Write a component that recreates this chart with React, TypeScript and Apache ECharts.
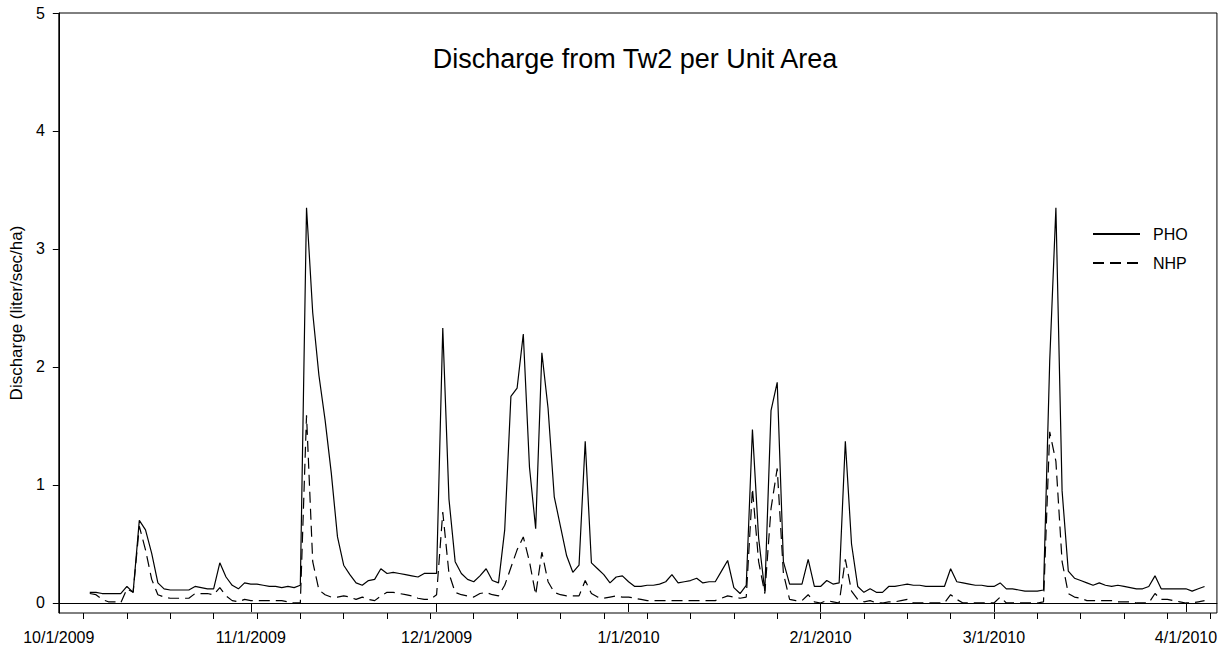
import React, { useEffect, useRef } from 'react';
import * as echarts from 'echarts';

// First sample date (daily samples)
const firstSample = [2009, 9, 6]; // 6 Oct 2009

const phoValues = [
  0.09, 0.09, 0.08, 0.08, 0.08, 0.08, 0.14, 0.09, 0.70, 0.62,
  0.42, 0.17, 0.12, 0.11, 0.11, 0.11, 0.11, 0.14, 0.13, 0.12,
  0.12, 0.34, 0.22, 0.15, 0.12, 0.17, 0.16, 0.16, 0.15, 0.14,
  0.14, 0.13, 0.14, 0.13, 0.15, 3.35, 2.46, 1.93, 1.55, 1.10,
  0.56, 0.32, 0.24, 0.17, 0.15, 0.19, 0.20, 0.29, 0.25, 0.26,
  0.25, 0.24, 0.23, 0.22, 0.25, 0.25, 0.25, 2.33, 0.88, 0.35,
  0.25, 0.20, 0.18, 0.23, 0.29, 0.19, 0.17, 0.62, 1.75, 1.82,
  2.28, 1.15, 0.63, 2.12, 1.65, 0.90, 0.65, 0.40, 0.26, 0.32,
  1.37, 0.34, 0.29, 0.24, 0.17, 0.22, 0.23, 0.18, 0.14, 0.14,
  0.15, 0.15, 0.16, 0.18, 0.24, 0.17, 0.18, 0.19, 0.21, 0.17,
  0.18, 0.18, 0.27, 0.36, 0.13, 0.08, 0.15, 1.47, 0.55, 0.10,
  1.63, 1.87, 0.35, 0.16, 0.16, 0.16, 0.37, 0.14, 0.14, 0.19,
  0.16, 0.17, 1.37, 0.50, 0.14, 0.09, 0.12, 0.09, 0.09, 0.14,
  0.14, 0.15, 0.16, 0.15, 0.15, 0.14, 0.14, 0.14, 0.14, 0.29,
  0.18, 0.17, 0.16, 0.15, 0.15, 0.14, 0.14, 0.17, 0.12, 0.12,
  0.11, 0.10, 0.10, 0.10, 0.11, 2.05, 3.35, 0.95, 0.27, 0.21,
  0.19, 0.17, 0.15, 0.17, 0.15, 0.14, 0.15, 0.14, 0.13, 0.12,
  0.12, 0.14, 0.23, 0.12, 0.12, 0.12, 0.12, 0.12, 0.10, 0.12,
  0.14,
];

const nhpValues = [
  0.08, 0.07, 0.03, 0.01, 0.01, 0.00, 0.12, 0.09, 0.65, 0.45,
  0.20, 0.07, 0.05, 0.04, 0.04, 0.04, 0.04, 0.08, 0.08, 0.08,
  0.07, 0.13, 0.06, 0.02, 0.01, 0.03, 0.02, 0.02, 0.02, 0.02,
  0.02, 0.02, 0.01, 0.00, 0.00, 1.59, 0.35, 0.11, 0.07, 0.05,
  0.05, 0.06, 0.05, 0.03, 0.05, 0.03, 0.02, 0.06, 0.09, 0.09,
  0.08, 0.07, 0.06, 0.04, 0.03, 0.03, 0.07, 0.77, 0.25, 0.09,
  0.07, 0.06, 0.05, 0.08, 0.09, 0.07, 0.06, 0.15, 0.30, 0.45,
  0.56, 0.35, 0.07, 0.43, 0.18, 0.09, 0.07, 0.06, 0.06, 0.06,
  0.19, 0.08, 0.05, 0.04, 0.05, 0.06, 0.05, 0.05, 0.04, 0.03,
  0.02, 0.02, 0.02, 0.02, 0.02, 0.02, 0.02, 0.02, 0.02, 0.02,
  0.02, 0.02, 0.04, 0.06, 0.05, 0.04, 0.05, 0.97, 0.35, 0.08,
  0.80, 1.14, 0.25, 0.03, 0.02, 0.02, 0.07, 0.01, 0.00, 0.02,
  0.01, 0.00, 0.37, 0.10, 0.03, 0.01, 0.02, 0.00, 0.00, 0.01,
  0.01, 0.02, 0.03, 0.00, 0.00, 0.00, 0.00, 0.00, 0.00, 0.07,
  0.03, 0.00, 0.00, 0.00, 0.00, 0.00, 0.00, 0.05, 0.00, 0.00,
  0.00, 0.00, 0.00, 0.00, 0.01, 1.45, 1.20, 0.35, 0.08, 0.05,
  0.04, 0.02, 0.02, 0.02, 0.02, 0.02, 0.01, 0.01, 0.01, 0.00,
  0.00, 0.00, 0.08, 0.03, 0.03, 0.02, 0.01, 0.00, 0.00, 0.01,
  0.02,
];

const monthTicks = [
  [2009, 9, 1], [2009, 10, 1], [2009, 11, 1], [2010, 0, 1],
  [2010, 1, 1], [2010, 2, 1], [2010, 3, 1],
];
const yTicks = [0, 1, 2, 3, 4, 5];
const axisStart = [2009, 9, 1];
const axisEnd = [2010, 3, 6];
const firstMonday = [2009, 9, 5];
const lastMonday = [2010, 3, 5];

const DAY = 86400000;
const ts = (a: number[], add = 0) => Date.UTC(a[0], a[1], a[2] + add);
// day number relative to axis start
const dn = (a: number[], add = 0) => Math.round((ts(a, add) - ts(axisStart)) / DAY);

const FONT = '"Liberation Sans", Arial, Helvetica, sans-serif';

export default function App() {
  const ref = useRef<HTMLDivElement>(null);
  useEffect(() => {
    if (!ref.current) return;
    const chart = echarts.init(ref.current, undefined, { renderer: 'svg' });
    const pho = phoValues.map((v, i) => [dn(firstSample, i), v]);
    const nhp = nhpValues.map((v, i) => [dn(firstSample, i), v]);
    const weekly: number[] = [];
    for (let k = 0; dn(firstMonday, 7 * k) <= dn(lastMonday); k++) {
      weekly.push(dn(firstMonday, 7 * k));
    }
    const monthDays = monthTicks.map((m) => dn(m));
    const fmt = (v: number) => {
      const d = new Date(ts(axisStart) + Math.round(v) * DAY);
      return `${d.getUTCMonth() + 1}/${d.getUTCDate()}/${d.getUTCFullYear()}`;
    };
    chart.setOption({
      animation: false,
      textStyle: { fontFamily: FONT, color: '#000' },
      title: {
        text: 'Discharge from Tw2 per Unit Area',
        left: 635,
        top: 45,
        textAlign: 'center',
        padding: 0,
        textStyle: { fontFamily: FONT, fontSize: 27, fontWeight: 'normal', color: '#000' },
      },
      legend: {
        orient: 'vertical',
        left: 1092,
        top: 226,
        itemWidth: 47,
        itemHeight: 14,
        itemGap: 13,
        padding: 0,
        itemStyle: { opacity: 0 },
        textStyle: { fontFamily: FONT, fontSize: 16, color: '#000', padding: [0, 0, 0, 8] },
        data: ['PHO', 'NHP'],
      },
      grid: {
        left: 55,
        right: 3,
        top: 13,
        bottom: 40,
        show: true,
        borderColor: '#000',
        borderWidth: 1,
        backgroundColor: 'transparent',
      },
      xAxis: [
        {
          type: 'value',
          min: dn(axisStart),
          max: dn(axisEnd),
          axisLine: { show: true, lineStyle: { color: '#000', width: 1 } },
          axisTick: {
            show: true,
            length: 9,
            lineStyle: { color: '#000' },
            customValues: monthDays,
          },
          axisLabel: {
            show: true,
            fontFamily: FONT,
            fontSize: 16,
            color: '#000',
            margin: 16,
            customValues: monthDays,
            formatter: fmt,
            hideOverlap: false,
          },
          splitLine: { show: false },
        },
        {
          type: 'value',
          min: dn(axisStart),
          max: dn(axisEnd),
          position: 'bottom',
          axisLine: { show: false },
          axisTick: {
            show: true,
            length: 6,
            lineStyle: { color: '#000' },
            customValues: weekly,
          },
          axisLabel: { show: false },
          splitLine: { show: false },
        },
      ],
      yAxis: {
        type: 'value',
        min: -0.085,
        max: 5,
        name: 'Discharge (liter/sec/ha)',
        nameLocation: 'middle',
        nameGap: 30,
        nameTextStyle: { fontFamily: FONT, fontSize: 17, color: '#000' },
        axisLine: { show: true, lineStyle: { color: '#000', width: 1 } },
        axisTick: { show: true, length: 6, lineStyle: { color: '#000' }, customValues: yTicks },
        axisLabel: {
          fontFamily: FONT,
          fontSize: 16,
          color: '#000',
          margin: 14,
          customValues: yTicks,
        },
        splitLine: { show: false },
      },
      series: [
        {
          name: 'PHO',
          type: 'line',
          data: pho,
          symbol: 'none',
          lineStyle: { color: '#000', width: 1.2, type: 'solid' },
          itemStyle: { color: '#000' },
        },
        {
          name: 'NHP',
          type: 'line',
          data: nhp,
          symbol: 'none',
          lineStyle: { color: '#000', width: 1.2, type: [11, 6] },
          itemStyle: { color: '#000' },
        },
      ],
    });
    return () => chart.dispose();
  }, []);
  return (
    <div
      ref={ref}
      style={{ position: 'fixed', left: 0, top: 0, width: 1220, height: 653, background: '#fff' }}
    />
  );
}
